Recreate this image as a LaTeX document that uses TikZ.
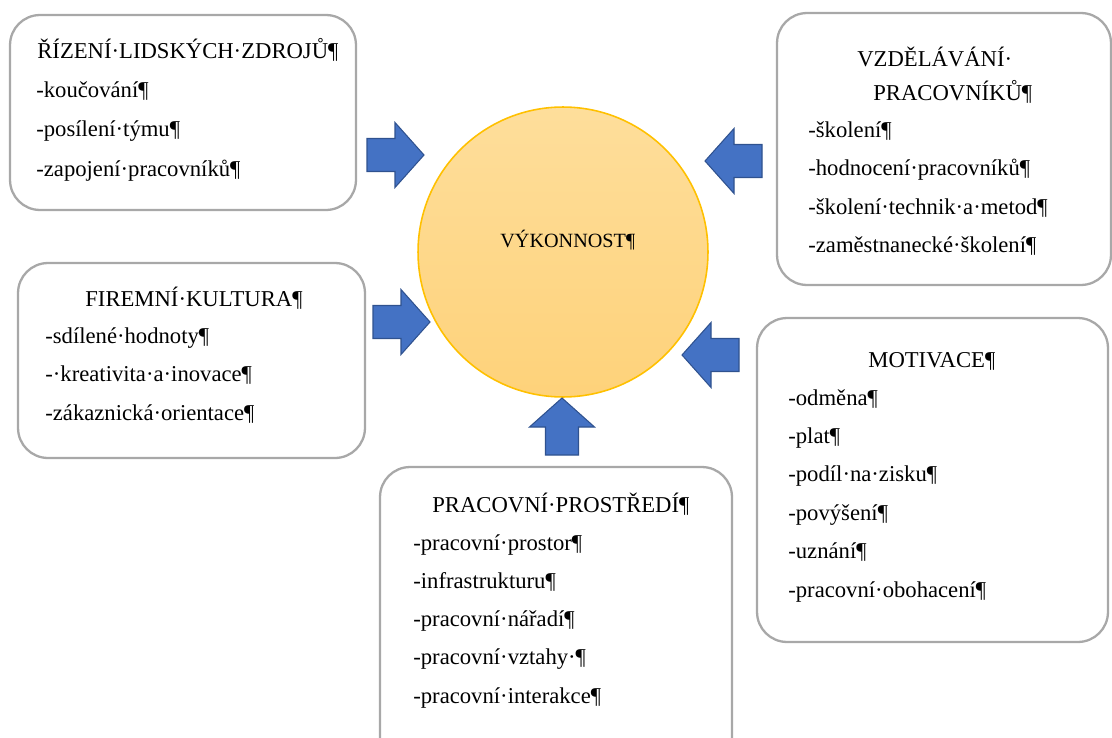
\documentclass[tikz,border=0pt]{standalone}
\usepackage{fontspec}
\setmainfont{Liberation Serif}
\usepackage{xcolor}
\definecolor{panelgray}{RGB}{168, 168, 168}
\definecolor{pushblue}{RGB}{68, 114, 196}
\definecolor{pushedge}{RGB}{47, 82, 143}
\definecolor{coretop}{RGB}{254, 222, 155}
\definecolor{corebottom}{RGB}{254, 210, 122}
\definecolor{coreedge}{RGB}{255, 192, 0}
\usetikzlibrary{positioning}
\newcommand{\panelfont}{\fontsize{12.9pt}{15pt}\selectfont}
\newcommand{\corefont}{\fontsize{11.5pt}{14pt}\selectfont}

\begin{document}
\begin{tikzpicture}[x=0.02cm, y=-0.02cm,
    panel/.style={draw=panelgray, line width=1.3pt, rounded corners=0.6cm, fill=white, inner sep=0pt},
    item/.style={anchor=base west, inner sep=0pt, font=\panelfont},
    pushfill/.style={fill=pushblue, draw=pushedge, line width=0.6pt},
    pics/push/.style={code={
        \draw[pushfill] (0,-16.5) -- (28,-16.5) -- (28,-32.5) -- (57,0)
            -- (28,32.5) -- (28,16.5) -- (0,16.5) -- cycle;
    }}]
    \clip (0,0) rectangle (1112,737);

    % centre
    \node[circle, draw=coreedge, line width=0.9pt, top color=coretop, bottom color=corebottom,
          minimum size=5.8cm, inner sep=0pt] (core) at (563,252) {};
    \node[item, font=\corefont] (corelabel) at (500,247) {VÝKONNOST¶};

    % boxes
    \node[panel, minimum width=6.92cm, minimum height=3.9cm] (hrbox) at (183,112.5) {};
    \node[panel, minimum width=6.68cm, minimum height=5.44cm] (edubox) at (944,149) {};
    \node[panel, minimum width=6.94cm, minimum height=3.9cm] (culturebox) at (191.5,360.5) {};
    \node[panel, minimum width=7.02cm, minimum height=6.48cm] (motivbox) at (932.5,480) {};
    \node[panel, minimum width=7.04cm, minimum height=6cm] (envbox) at (556,617) {};

    % headings
    \node[item] (hrhead) at (37,58) {ŘÍZENÍ·LIDSKÝCH·ZDROJŮ¶};
    \node[item] (eduhead) at (857,66) {VZDĚLÁVÁNÍ·};
    \node[item] (eduhead2) at (873,100) {PRACOVNÍKŮ¶};
    \node[item] (culturehead) at (85,306) {FIREMNÍ·KULTURA¶};
    \node[item] (motivhead) at (868,367) {MOTIVACE¶};
    \node[item] (envhead) at (432,512) {PRACOVNÍ·PROSTŘEDÍ¶};

    % lists
    \foreach \t [count=\i from 0] in {-koučování¶, -posílení·týmu¶, -zapojení·pracovníků¶}
        \node[item] (hr\i) at (36,97+39.5*\i) {\t};
    \foreach \t [count=\i from 0] in {-školení¶, -hodnocení·pracovníků¶, -školení·technik·a·metod¶, -zaměstnanecké·školení¶}
        \node[item] (edu\i) at (808,137+38.5*\i) {\t};
    \foreach \t [count=\i from 0] in {-sdílené·hodnoty¶, -·kreativita·a·inovace¶, -zákaznická·orientace¶}
        \node[item] (culture\i) at (45,343+38.5*\i) {\t};
    \foreach \t [count=\i from 0] in {-odměna¶, -plat¶, -podíl·na·zisku¶, -povýšení¶, -uznání¶, -pracovní·obohacení¶}
        \node[item] (motiv\i) at (788,405+38.4*\i) {\t};
    \foreach \t [count=\i from 0] in {-pracovní·prostor¶, -infrastrukturu¶, -pracovní·nářadí¶, -pracovní·vztahy·¶, -pracovní·interakce¶}
        \node[item] (env\i) at (413,550+38.25*\i) {\t};

    % arrows into the centre
    \pic at (367,155) {push};
    \pic at (373,322) {push};
    \pic[rotate=180] at (762,161) {push};
    \pic[rotate=180] at (739,355) {push};
    \pic[rotate=90] at (562,455) {push};
\end{tikzpicture}
\end{document}
